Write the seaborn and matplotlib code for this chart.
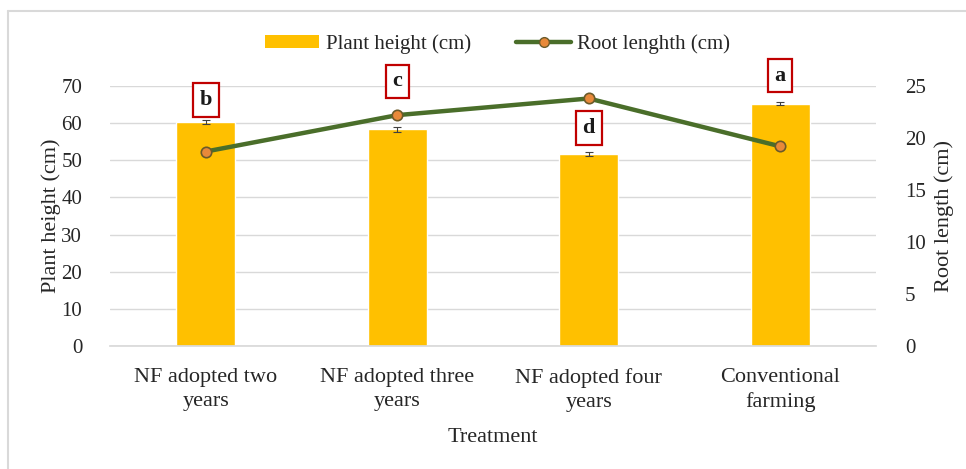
import matplotlib
matplotlib.use("Agg")
import matplotlib.pyplot as plt
from matplotlib.lines import Line2D
from matplotlib.patches import Patch
import seaborn as sns
import pandas as pd

# Data
treatments = ["NF adopted two\nyears", "NF adopted three\nyears",
              "NF adopted four\nyears", "Conventional\nfarming"]
plant_height = [60.3, 58.3, 51.7, 65.2]
plant_height_err = [0.5, 0.7, 0.5, 0.4]
root_length = [18.7, 22.2, 23.8, 19.2]
letters = ["b", "c", "d", "a"]

sns.set_theme(style="white")
plt.rcParams["font.family"] = ["Liberation Serif", "DejaVu Serif"]

df = pd.DataFrame({"Treatment": treatments, "height": plant_height, "root": root_length})

fig = plt.figure(figsize=(9.66, 4.69), dpi=100)
ax = fig.add_axes([0.1139, 0.2623, 0.7929, 0.5543])

bar_color = "#FFC000"
line_color = "#4A6E2A"
marker_color = "#E8893A"
text_color = "#262626"

sns.barplot(data=df, x="Treatment", y="height", color=bar_color, width=0.31,
            saturation=1, ax=ax, errorbar=None, zorder=2)
ax.errorbar(range(len(treatments)), plant_height, yerr=plant_height_err,
            fmt="none", ecolor="#404040", elinewidth=0.8, capsize=3, capthick=0.8, zorder=3)

ax.set_xlim(-0.5, 3.5)
ax.set_ylim(0, 70)
ax.set_yticks(range(0, 71, 10))
ax.yaxis.grid(True, color="#D9D9D9", linewidth=1)
ax.set_axisbelow(True)
for s in ax.spines.values():
    s.set_visible(False)
ax.spines["bottom"].set_visible(True)
ax.spines["bottom"].set_color("#D9D9D9")
ax.tick_params(axis="x", length=0, labelsize=16, colors=text_color, pad=16)
ax.tick_params(axis="y", length=0, labelsize=15, colors=text_color, pad=20)
for lbl in ax.get_xticklabels():
    lbl.set_linespacing(1.35)
ax.set_ylabel("Plant height (cm)", fontsize=16, color=text_color, labelpad=0)
ax.set_xlabel("Treatment", fontsize=16, color=text_color, labelpad=11)

ax2 = ax.twinx()
sns.pointplot(data=df, x="Treatment", y="root", color=line_color, ax=ax2,
              markers="o", linestyles="-", errorbar=None,
              markersize=7.5, linewidth=3.2)
for ln in ax2.lines:
    ln.set_markerfacecolor(marker_color)
    ln.set_markeredgecolor("#6B5A2A")
    ln.set_markeredgewidth(1.2)
ax2.set_xlim(-0.5, 3.5)
ax2.set_ylim(0, 25)
ax2.set_yticks(range(0, 26, 5))
for s in ax2.spines.values():
    s.set_visible(False)
ax2.tick_params(axis="y", length=0, labelsize=15, colors=text_color, pad=21)
ax2.set_ylabel("Root length (cm)", fontsize=16, color=text_color, labelpad=6)
ax2.set_xlabel("")
ax2.grid(False)

# Significance letters
letter_y = [66.2, 71.3, 58.7, 72.8]
for i, (lt, yv) in enumerate(zip(letters, letter_y)):
    ax.text(i, yv, lt, ha="center", va="center", fontsize=16, fontweight="bold",
            color="#1a1a1a", zorder=5, clip_on=False,
            bbox=dict(boxstyle="square,pad=0.3", facecolor="white",
                      edgecolor="#C00000", linewidth=1.6))

# Legend
handles = [Patch(facecolor=bar_color, edgecolor="none"),
           Line2D([0], [0], color=line_color, linewidth=3.2, marker="o",
                  markersize=7, markerfacecolor=marker_color, markeredgecolor="#6B5A2A")]
fig.legend(handles, ["Plant height (cm)", "Root lenghth (cm)"], loc="center",
           bbox_to_anchor=(0.515, 0.906), ncol=2, frameon=False, fontsize=15,
           handlelength=2.6, handleheight=0.6, columnspacing=2.2, handletextpad=0.3)

# Chart-area border
fig.add_artist(Line2D([7.5 / 966, 1.0], [1 - 11.5 / 469, 1 - 11.5 / 469],
                      color="#D9D9D9", linewidth=1.5, transform=fig.transFigure))
fig.add_artist(Line2D([7.5 / 966, 7.5 / 966], [0, 1 - 11.5 / 469],
                      color="#D9D9D9", linewidth=1.5, transform=fig.transFigure))

fig.savefig("out.png", dpi=100, facecolor="white")
